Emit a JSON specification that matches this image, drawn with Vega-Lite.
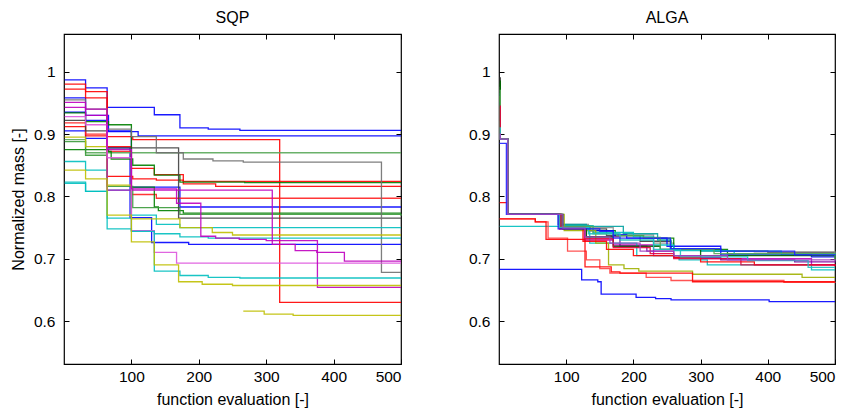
{
"$schema":"https://vega.github.io/schema/vega-lite/v6.json",
"padding":{"left":9,"top":8,"right":5,"bottom":5},
"background":"#ffffff",
"config":{
 "font":"Liberation Sans",
 "view":{"stroke":"#000","strokeWidth":1.2},
 "axis":{"domain":false,"grid":false,"tickSize":-5,"tickColor":"#000","tickWidth":1,"labelFont":"Liberation Sans","labelFontSize":15.5,"labelColor":"#000","titleFont":"Liberation Sans","titleFontSize":16,"titleFontWeight":"normal","titleColor":"#000","titlePadding":7},
 "axisX":{"labelPadding":10},
 "axisY":{"labelPadding":14},
 "title":{"font":"Liberation Sans","fontSize":16,"fontWeight":"normal","color":"#000","offset":8,"anchor":"middle"}
},
"bounds":"flush",
"spacing":98,
"data":{"values":[
{"p":"SQP","r":"s01","x":1,"y":0.987},{"p":"SQP","r":"s01","x":32,"y":0.974},{"p":"SQP","r":"s01","x":64,"y":0.943},{"p":"SQP","r":"s01","x":134,"y":0.931},{"p":"SQP","r":"s01","x":172,"y":0.910},{"p":"SQP","r":"s01","x":214,"y":0.908},{"p":"SQP","r":"s01","x":261,"y":0.906},{"p":"SQP","r":"s01","x":500,"y":0.906},
{"p":"SQP","r":"s02","x":1,"y":0.958},{"p":"SQP","r":"s02","x":32,"y":0.930},{"p":"SQP","r":"s02","x":66,"y":0.904},{"p":"SQP","r":"s02","x":110,"y":0.897},{"p":"SQP","r":"s02","x":500,"y":0.897},
{"p":"SQP","r":"s03","x":1,"y":0.935},{"p":"SQP","r":"s03","x":32,"y":0.922},{"p":"SQP","r":"s03","x":64,"y":0.905},{"p":"SQP","r":"s03","x":100,"y":0.815},{"p":"SQP","r":"s03","x":172,"y":0.783},{"p":"SQP","r":"s03","x":500,"y":0.783},
{"p":"SQP","r":"s04","x":1,"y":0.905},{"p":"SQP","r":"s04","x":32,"y":0.893},{"p":"SQP","r":"s04","x":64,"y":0.878},{"p":"SQP","r":"s04","x":98,"y":0.766},{"p":"SQP","r":"s04","x":130,"y":0.726},{"p":"SQP","r":"s04","x":185,"y":0.723},{"p":"SQP","r":"s04","x":500,"y":0.723},
{"p":"SQP","r":"s05","x":1,"y":0.980},{"p":"SQP","r":"s05","x":32,"y":0.968},{"p":"SQP","r":"s05","x":64,"y":0.896},{"p":"SQP","r":"s05","x":102,"y":0.891},{"p":"SQP","r":"s05","x":320,"y":0.630},{"p":"SQP","r":"s05","x":500,"y":0.630},
{"p":"SQP","r":"s06","x":1,"y":0.972},{"p":"SQP","r":"s06","x":32,"y":0.958},{"p":"SQP","r":"s06","x":64,"y":0.832},{"p":"SQP","r":"s06","x":102,"y":0.828},{"p":"SQP","r":"s06","x":137,"y":0.826},{"p":"SQP","r":"s06","x":177,"y":0.824},{"p":"SQP","r":"s06","x":500,"y":0.824},
{"p":"SQP","r":"s07","x":1,"y":0.912},{"p":"SQP","r":"s07","x":32,"y":0.897},{"p":"SQP","r":"s07","x":64,"y":0.880},{"p":"SQP","r":"s07","x":100,"y":0.845},{"p":"SQP","r":"s07","x":134,"y":0.835},{"p":"SQP","r":"s07","x":177,"y":0.820},{"p":"SQP","r":"s07","x":225,"y":0.816},{"p":"SQP","r":"s07","x":500,"y":0.816},
{"p":"SQP","r":"s08","x":1,"y":0.918},{"p":"SQP","r":"s08","x":32,"y":0.900},{"p":"SQP","r":"s08","x":64,"y":0.872},{"p":"SQP","r":"s08","x":100,"y":0.803},{"p":"SQP","r":"s08","x":137,"y":0.797},{"p":"SQP","r":"s08","x":500,"y":0.797},
{"p":"SQP","r":"s09","x":1,"y":0.891},{"p":"SQP","r":"s09","x":32,"y":0.870},{"p":"SQP","r":"s09","x":500,"y":0.870},
{"p":"SQP","r":"s10","x":1,"y":0.875},{"p":"SQP","r":"s10","x":66,"y":0.872},{"p":"SQP","r":"s10","x":70,"y":0.860},{"p":"SQP","r":"s10","x":102,"y":0.850},{"p":"SQP","r":"s10","x":134,"y":0.834},{"p":"SQP","r":"s10","x":172,"y":0.823},{"p":"SQP","r":"s10","x":268,"y":0.822},{"p":"SQP","r":"s10","x":500,"y":0.822},
{"p":"SQP","r":"s11","x":1,"y":0.934},{"p":"SQP","r":"s11","x":32,"y":0.920},{"p":"SQP","r":"s11","x":66,"y":0.915},{"p":"SQP","r":"s11","x":100,"y":0.815},{"p":"SQP","r":"s11","x":134,"y":0.783},{"p":"SQP","r":"s11","x":140,"y":0.777},{"p":"SQP","r":"s11","x":177,"y":0.773},{"p":"SQP","r":"s11","x":500,"y":0.773},
{"p":"SQP","r":"s12","x":1,"y":0.888},{"p":"SQP","r":"s12","x":32,"y":0.866},{"p":"SQP","r":"s12","x":64,"y":0.816},{"p":"SQP","r":"s12","x":102,"y":0.782},{"p":"SQP","r":"s12","x":172,"y":0.771},{"p":"SQP","r":"s12","x":500,"y":0.769},
{"p":"SQP","r":"s13","x":1,"y":0.922},{"p":"SQP","r":"s13","x":32,"y":0.905},{"p":"SQP","r":"s13","x":64,"y":0.878},{"p":"SQP","r":"s13","x":170,"y":0.765},{"p":"SQP","r":"s13","x":500,"y":0.765},
{"p":"SQP","r":"s14","x":1,"y":0.955},{"p":"SQP","r":"s14","x":32,"y":0.940},{"p":"SQP","r":"s14","x":64,"y":0.908},{"p":"SQP","r":"s14","x":100,"y":0.896},{"p":"SQP","r":"s14","x":137,"y":0.870},{"p":"SQP","r":"s14","x":177,"y":0.860},{"p":"SQP","r":"s14","x":221,"y":0.857},{"p":"SQP","r":"s14","x":266,"y":0.855},{"p":"SQP","r":"s14","x":471,"y":0.678},{"p":"SQP","r":"s14","x":500,"y":0.678},
{"p":"SQP","r":"s15","x":1,"y":0.856},{"p":"SQP","r":"s15","x":32,"y":0.842},{"p":"SQP","r":"s15","x":64,"y":0.810},{"p":"SQP","r":"s15","x":100,"y":0.770},{"p":"SQP","r":"s15","x":137,"y":0.755},{"p":"SQP","r":"s15","x":172,"y":0.750},{"p":"SQP","r":"s15","x":500,"y":0.750},
{"p":"SQP","r":"s16","x":1,"y":0.895},{"p":"SQP","r":"s16","x":32,"y":0.880},{"p":"SQP","r":"s16","x":64,"y":0.818},{"p":"SQP","r":"s16","x":100,"y":0.764},{"p":"SQP","r":"s16","x":172,"y":0.750},{"p":"SQP","r":"s16","x":220,"y":0.742},{"p":"SQP","r":"s16","x":250,"y":0.738},{"p":"SQP","r":"s16","x":500,"y":0.738},
{"p":"SQP","r":"s17","x":1,"y":0.821},{"p":"SQP","r":"s17","x":32,"y":0.808},{"p":"SQP","r":"s17","x":64,"y":0.748},{"p":"SQP","r":"s17","x":100,"y":0.745},{"p":"SQP","r":"s17","x":134,"y":0.740},{"p":"SQP","r":"s17","x":172,"y":0.735},{"p":"SQP","r":"s17","x":214,"y":0.733},{"p":"SQP","r":"s17","x":500,"y":0.733},
{"p":"SQP","r":"s18","x":1,"y":0.951},{"p":"SQP","r":"s18","x":32,"y":0.940},{"p":"SQP","r":"s18","x":64,"y":0.810},{"p":"SQP","r":"s18","x":309,"y":0.723},{"p":"SQP","r":"s18","x":343,"y":0.713},{"p":"SQP","r":"s18","x":375,"y":0.710},{"p":"SQP","r":"s18","x":416,"y":0.696},{"p":"SQP","r":"s18","x":500,"y":0.696},
{"p":"SQP","r":"s19","x":1,"y":0.928},{"p":"SQP","r":"s19","x":32,"y":0.915},{"p":"SQP","r":"s19","x":64,"y":0.862},{"p":"SQP","r":"s19","x":100,"y":0.745},{"p":"SQP","r":"s19","x":134,"y":0.710},{"p":"SQP","r":"s19","x":167,"y":0.693},{"p":"SQP","r":"s19","x":500,"y":0.693},
{"p":"SQP","r":"s20","x":1,"y":0.943},{"p":"SQP","r":"s20","x":32,"y":0.930},{"p":"SQP","r":"s20","x":64,"y":0.875},{"p":"SQP","r":"s20","x":100,"y":0.812},{"p":"SQP","r":"s20","x":167,"y":0.789},{"p":"SQP","r":"s20","x":203,"y":0.736},{"p":"SQP","r":"s20","x":225,"y":0.733},{"p":"SQP","r":"s20","x":260,"y":0.731},{"p":"SQP","r":"s20","x":300,"y":0.729},{"p":"SQP","r":"s20","x":376,"y":0.654},{"p":"SQP","r":"s20","x":500,"y":0.654},
{"p":"SQP","r":"s21","x":1,"y":0.823},{"p":"SQP","r":"s21","x":32,"y":0.808},{"p":"SQP","r":"s21","x":64,"y":0.765},{"p":"SQP","r":"s21","x":100,"y":0.744},{"p":"SQP","r":"s21","x":134,"y":0.680},{"p":"SQP","r":"s21","x":172,"y":0.673},{"p":"SQP","r":"s21","x":214,"y":0.670},{"p":"SQP","r":"s21","x":261,"y":0.669},{"p":"SQP","r":"s21","x":500,"y":0.669},
{"p":"SQP","r":"s22","x":1,"y":0.842},{"p":"SQP","r":"s22","x":32,"y":0.828},{"p":"SQP","r":"s22","x":64,"y":0.770},{"p":"SQP","r":"s22","x":100,"y":0.727},{"p":"SQP","r":"s22","x":134,"y":0.690},{"p":"SQP","r":"s22","x":170,"y":0.663},{"p":"SQP","r":"s22","x":205,"y":0.659},{"p":"SQP","r":"s22","x":250,"y":0.657},{"p":"SQP","r":"s22","x":500,"y":0.657},
{"p":"SQP","r":"s23","x":266,"y":0.616},{"p":"SQP","r":"s23","x":297,"y":0.611},{"p":"SQP","r":"s23","x":340,"y":0.609},{"p":"SQP","r":"s23","x":500,"y":0.609},

{"p":"ALGA","r":"a01","x":1,"y":0.99},{"p":"ALGA","r":"a01","x":2,"y":0.892},{"p":"ALGA","r":"a01","x":13,"y":0.771},{"p":"ALGA","r":"a01","x":90,"y":0.752},{"p":"ALGA","r":"a01","x":126,"y":0.748},{"p":"ALGA","r":"a01","x":160,"y":0.737},{"p":"ALGA","r":"a01","x":210,"y":0.728},{"p":"ALGA","r":"a01","x":256,"y":0.716},{"p":"ALGA","r":"a01","x":320,"y":0.712},{"p":"ALGA","r":"a01","x":400,"y":0.710},{"p":"ALGA","r":"a01","x":500,"y":0.708},
{"p":"ALGA","r":"a02","x":1,"y":0.975},{"p":"ALGA","r":"a02","x":2,"y":0.892},{"p":"ALGA","r":"a02","x":13,"y":0.771},{"p":"ALGA","r":"a02","x":93,"y":0.755},{"p":"ALGA","r":"a02","x":133,"y":0.750},{"p":"ALGA","r":"a02","x":170,"y":0.738},{"p":"ALGA","r":"a02","x":230,"y":0.725},{"p":"ALGA","r":"a02","x":260,"y":0.716},{"p":"ALGA","r":"a02","x":300,"y":0.713},{"p":"ALGA","r":"a02","x":380,"y":0.711},{"p":"ALGA","r":"a02","x":500,"y":0.709},
{"p":"ALGA","r":"a03","x":1,"y":0.98},{"p":"ALGA","r":"a03","x":2,"y":0.892},{"p":"ALGA","r":"a03","x":13,"y":0.771},{"p":"ALGA","r":"a03","x":92,"y":0.753},{"p":"ALGA","r":"a03","x":135,"y":0.745},{"p":"ALGA","r":"a03","x":173,"y":0.737},{"p":"ALGA","r":"a03","x":215,"y":0.733},{"p":"ALGA","r":"a03","x":260,"y":0.715},{"p":"ALGA","r":"a03","x":340,"y":0.708},{"p":"ALGA","r":"a03","x":500,"y":0.703},
{"p":"ALGA","r":"a04","x":1,"y":0.965},{"p":"ALGA","r":"a04","x":2,"y":0.892},{"p":"ALGA","r":"a04","x":13,"y":0.771},{"p":"ALGA","r":"a04","x":88,"y":0.755},{"p":"ALGA","r":"a04","x":130,"y":0.752},{"p":"ALGA","r":"a04","x":185,"y":0.740},{"p":"ALGA","r":"a04","x":236,"y":0.730},{"p":"ALGA","r":"a04","x":256,"y":0.716},{"p":"ALGA","r":"a04","x":300,"y":0.712},{"p":"ALGA","r":"a04","x":420,"y":0.706},{"p":"ALGA","r":"a04","x":500,"y":0.704},
{"p":"ALGA","r":"a05","x":1,"y":0.95},{"p":"ALGA","r":"a05","x":2,"y":0.892},{"p":"ALGA","r":"a05","x":13,"y":0.771},{"p":"ALGA","r":"a05","x":90,"y":0.750},{"p":"ALGA","r":"a05","x":133,"y":0.745},{"p":"ALGA","r":"a05","x":170,"y":0.738},{"p":"ALGA","r":"a05","x":190,"y":0.733},{"p":"ALGA","r":"a05","x":250,"y":0.720},{"p":"ALGA","r":"a05","x":330,"y":0.706},{"p":"ALGA","r":"a05","x":465,"y":0.703},{"p":"ALGA","r":"a05","x":500,"y":0.702},
{"p":"ALGA","r":"a06","x":1,"y":0.94},{"p":"ALGA","r":"a06","x":2,"y":0.892},{"p":"ALGA","r":"a06","x":13,"y":0.771},{"p":"ALGA","r":"a06","x":90,"y":0.748},{"p":"ALGA","r":"a06","x":127,"y":0.730},{"p":"ALGA","r":"a06","x":170,"y":0.722},{"p":"ALGA","r":"a06","x":230,"y":0.705},{"p":"ALGA","r":"a06","x":300,"y":0.700},{"p":"ALGA","r":"a06","x":465,"y":0.690},{"p":"ALGA","r":"a06","x":500,"y":0.690},
{"p":"ALGA","r":"a07","x":1,"y":0.93},{"p":"ALGA","r":"a07","x":2,"y":0.892},{"p":"ALGA","r":"a07","x":13,"y":0.771},{"p":"ALGA","r":"a07","x":92,"y":0.752},{"p":"ALGA","r":"a07","x":130,"y":0.735},{"p":"ALGA","r":"a07","x":180,"y":0.720},{"p":"ALGA","r":"a07","x":220,"y":0.712},{"p":"ALGA","r":"a07","x":260,"y":0.702},{"p":"ALGA","r":"a07","x":330,"y":0.698},{"p":"ALGA","r":"a07","x":440,"y":0.695},{"p":"ALGA","r":"a07","x":500,"y":0.694},
{"p":"ALGA","r":"a08","x":1,"y":0.752},{"p":"ALGA","r":"a08","x":90,"y":0.750},{"p":"ALGA","r":"a08","x":135,"y":0.725},{"p":"ALGA","r":"a08","x":205,"y":0.705},{"p":"ALGA","r":"a08","x":268,"y":0.698},{"p":"ALGA","r":"a08","x":310,"y":0.690},{"p":"ALGA","r":"a08","x":465,"y":0.682},{"p":"ALGA","r":"a08","x":500,"y":0.682},
{"p":"ALGA","r":"a09","x":1,"y":0.92},{"p":"ALGA","r":"a09","x":2,"y":0.892},{"p":"ALGA","r":"a09","x":13,"y":0.771},{"p":"ALGA","r":"a09","x":95,"y":0.753},{"p":"ALGA","r":"a09","x":140,"y":0.742},{"p":"ALGA","r":"a09","x":200,"y":0.735},{"p":"ALGA","r":"a09","x":230,"y":0.722},{"p":"ALGA","r":"a09","x":260,"y":0.713},{"p":"ALGA","r":"a09","x":350,"y":0.708},{"p":"ALGA","r":"a09","x":500,"y":0.706},
{"p":"ALGA","r":"a10","x":1,"y":0.96},{"p":"ALGA","r":"a10","x":2,"y":0.892},{"p":"ALGA","r":"a10","x":13,"y":0.771},{"p":"ALGA","r":"a10","x":97,"y":0.745},{"p":"ALGA","r":"a10","x":144,"y":0.725},{"p":"ALGA","r":"a10","x":163,"y":0.690},{"p":"ALGA","r":"a10","x":186,"y":0.684},{"p":"ALGA","r":"a10","x":208,"y":0.680},{"p":"ALGA","r":"a10","x":288,"y":0.675},{"p":"ALGA","r":"a10","x":451,"y":0.670},{"p":"ALGA","r":"a10","x":500,"y":0.670},
{"p":"ALGA","r":"a11","x":1,"y":0.790},{"p":"ALGA","r":"a11","x":13,"y":0.771},{"p":"ALGA","r":"a11","x":90,"y":0.748},{"p":"ALGA","r":"a11","x":125,"y":0.728},{"p":"ALGA","r":"a11","x":160,"y":0.715},{"p":"ALGA","r":"a11","x":200,"y":0.705},{"p":"ALGA","r":"a11","x":260,"y":0.702},{"p":"ALGA","r":"a11","x":300,"y":0.695},{"p":"ALGA","r":"a11","x":380,"y":0.690},{"p":"ALGA","r":"a11","x":500,"y":0.688},
{"p":"ALGA","r":"a12","x":1,"y":0.764},{"p":"ALGA","r":"a12","x":54,"y":0.759},{"p":"ALGA","r":"a12","x":73,"y":0.733},{"p":"ALGA","r":"a12","x":102,"y":0.712},{"p":"ALGA","r":"a12","x":130,"y":0.698},{"p":"ALGA","r":"a12","x":150,"y":0.684},{"p":"ALGA","r":"a12","x":165,"y":0.677},{"p":"ALGA","r":"a12","x":219,"y":0.670},{"p":"ALGA","r":"a12","x":256,"y":0.665},{"p":"ALGA","r":"a12","x":424,"y":0.662},{"p":"ALGA","r":"a12","x":500,"y":0.661},
{"p":"ALGA","r":"a13","x":1,"y":0.764},{"p":"ALGA","r":"a13","x":54,"y":0.759},{"p":"ALGA","r":"a13","x":70,"y":0.731},{"p":"ALGA","r":"a13","x":128,"y":0.687},{"p":"ALGA","r":"a13","x":167,"y":0.679},{"p":"ALGA","r":"a13","x":180,"y":0.677},{"p":"ALGA","r":"a13","x":288,"y":0.663},{"p":"ALGA","r":"a13","x":500,"y":0.663},
{"p":"ALGA","r":"a14","x":1,"y":0.683},{"p":"ALGA","r":"a14","x":123,"y":0.666},{"p":"ALGA","r":"a14","x":147,"y":0.663},{"p":"ALGA","r":"a14","x":152,"y":0.643},{"p":"ALGA","r":"a14","x":204,"y":0.638},{"p":"ALGA","r":"a14","x":233,"y":0.636},{"p":"ALGA","r":"a14","x":256,"y":0.634},{"p":"ALGA","r":"a14","x":402,"y":0.631},{"p":"ALGA","r":"a14","x":500,"y":0.631},
{"p":"ALGA","r":"a15","x":1,"y":0.985},{"p":"ALGA","r":"a15","x":2,"y":0.892},{"p":"ALGA","r":"a15","x":13,"y":0.771},{"p":"ALGA","r":"a15","x":95,"y":0.748},{"p":"ALGA","r":"a15","x":130,"y":0.735},{"p":"ALGA","r":"a15","x":170,"y":0.720},{"p":"ALGA","r":"a15","x":240,"y":0.715},{"p":"ALGA","r":"a15","x":300,"y":0.705},{"p":"ALGA","r":"a15","x":500,"y":0.700},
{"p":"ALGA","r":"a16","x":1,"y":0.97},{"p":"ALGA","r":"a16","x":2,"y":0.892},{"p":"ALGA","r":"a16","x":13,"y":0.771},{"p":"ALGA","r":"a16","x":92,"y":0.752},{"p":"ALGA","r":"a16","x":140,"y":0.740},{"p":"ALGA","r":"a16","x":175,"y":0.737},{"p":"ALGA","r":"a16","x":215,"y":0.734},{"p":"ALGA","r":"a16","x":240,"y":0.715},{"p":"ALGA","r":"a16","x":320,"y":0.708},{"p":"ALGA","r":"a16","x":500,"y":0.698},
{"p":"ALGA","r":"a17","x":1,"y":0.945},{"p":"ALGA","r":"a17","x":2,"y":0.892},{"p":"ALGA","r":"a17","x":13,"y":0.771},{"p":"ALGA","r":"a17","x":92,"y":0.750},{"p":"ALGA","r":"a17","x":128,"y":0.732},{"p":"ALGA","r":"a17","x":170,"y":0.718},{"p":"ALGA","r":"a17","x":225,"y":0.708},{"p":"ALGA","r":"a17","x":260,"y":0.700},{"p":"ALGA","r":"a17","x":360,"y":0.690},{"p":"ALGA","r":"a17","x":500,"y":0.689},
{"p":"ALGA","r":"a18","x":1,"y":0.91},{"p":"ALGA","r":"a18","x":2,"y":0.892},{"p":"ALGA","r":"a18","x":13,"y":0.771},{"p":"ALGA","r":"a18","x":90,"y":0.750},{"p":"ALGA","r":"a18","x":133,"y":0.740},{"p":"ALGA","r":"a18","x":180,"y":0.730},{"p":"ALGA","r":"a18","x":230,"y":0.715},{"p":"ALGA","r":"a18","x":270,"y":0.703},{"p":"ALGA","r":"a18","x":370,"y":0.697},{"p":"ALGA","r":"a18","x":460,"y":0.686},{"p":"ALGA","r":"a18","x":500,"y":0.686},
{"p":"ALGA","r":"a19","x":1,"y":0.885},{"p":"ALGA","r":"a19","x":11,"y":0.771},{"p":"ALGA","r":"a19","x":88,"y":0.748},{"p":"ALGA","r":"a19","x":150,"y":0.744},{"p":"ALGA","r":"a19","x":170,"y":0.733},{"p":"ALGA","r":"a19","x":255,"y":0.716},{"p":"ALGA","r":"a19","x":330,"y":0.712},{"p":"ALGA","r":"a19","x":440,"y":0.706},{"p":"ALGA","r":"a19","x":500,"y":0.705},
{"p":"ALGA","r":"a20","x":1,"y":0.90},{"p":"ALGA","r":"a20","x":2,"y":0.892},{"p":"ALGA","r":"a20","x":13,"y":0.771},{"p":"ALGA","r":"a20","x":95,"y":0.749},{"p":"ALGA","r":"a20","x":128,"y":0.735},{"p":"ALGA","r":"a20","x":165,"y":0.725},{"p":"ALGA","r":"a20","x":210,"y":0.712},{"p":"ALGA","r":"a20","x":260,"y":0.705},{"p":"ALGA","r":"a20","x":340,"y":0.698},{"p":"ALGA","r":"a20","x":500,"y":0.696}
]},
"hconcat":[
{
 "title":{"text":"SQP"},
 "width":337,"height":330,
 "transform":[{"filter":"datum.p === 'SQP'"}],
 "layer":[
  {"mark":{"type":"line","interpolate":"step-after","strokeWidth":1.3,"opacity":0.9},
   "encoding":{
    "x":{"field":"x","type":"quantitative","scale":{"domain":[0,500],"nice":false,"zero":false},"axis":{"values":[100,200,300,400,500],"title":"function evaluation [-]"}},
    "y":{"field":"y","type":"quantitative","scale":{"domain":[0.531,1.0606],"nice":false,"zero":false},"axis":{"values":[0.6,0.7,0.8,0.9,1],"format":".1~f","title":"Normalized mass [-]"}},
    "color":{"field":"r","type":"nominal","legend":null,"scale":{
      "domain":["s01","s02","s03","s04","s05","s06","s07","s08","s09","s10","s11","s12","s13","s14","s15","s16","s17","s18","s19","s20","s21","s22","s23","a01","a02","a03","a04","a05","a06","a07","a08","a09","a10","a11","a12","a13","a14","a15","a16","a17","a18","a19","a20"],
      "range":["#0000FF","#0000FF","#0000FF","#0000FF","#FF0000","#FF0000","#FF0000","#FF2020","#5aa85a","#008000","#008000","#3a9a3a","#404040","#707070","#00BFBF","#BFBF00","#00BFBF","#BF00BF","#DD55DD","#BF00BF","#00BFBF","#BFBF00","#BFBF00","#404040","#909090","#008000","#00A0A0","#0000FF","#BF00BF","#8000A0","#00BFBF","#00BFBF","#A0B000","#FF0000","#FF4040","#FF0000","#0000FF","#006400","#5aa85a","#E0003C","#20C0C0","#2020FF","#A040C0"]}}
   }},
  {"mark":{"type":"point","opacity":0},
   "encoding":{
    "x":{"field":"x","type":"quantitative","scale":{"domain":[0,500],"nice":false,"zero":false},"axis":{"orient":"top","values":[100,200,300,400,500],"labels":false,"title":null}},
    "y":{"field":"y","type":"quantitative","scale":{"domain":[0.531,1.0606],"nice":false,"zero":false},"axis":{"orient":"right","values":[0.6,0.7,0.8,0.9,1],"labels":false,"title":null}}
   }}
 ],
 "resolve":{"axis":{"x":"independent","y":"independent"}}
},
{
 "title":{"text":"ALGA"},
 "width":336,"height":330,
 "transform":[{"filter":"datum.p === 'ALGA'"}],
 "layer":[
  {"mark":{"type":"line","interpolate":"step-after","strokeWidth":1.3,"opacity":0.9},
   "encoding":{
    "x":{"field":"x","type":"quantitative","scale":{"domain":[0,500],"nice":false,"zero":false},"axis":{"values":[100,200,300,400,500],"title":"function evaluation [-]"}},
    "y":{"field":"y","type":"quantitative","scale":{"domain":[0.531,1.0606],"nice":false,"zero":false},"axis":{"values":[0.6,0.7,0.8,0.9,1],"format":".1~f","title":null}},
    "color":{"field":"r","type":"nominal","legend":null}
   }},
  {"mark":{"type":"point","opacity":0},
   "encoding":{
    "x":{"field":"x","type":"quantitative","scale":{"domain":[0,500],"nice":false,"zero":false},"axis":{"orient":"top","values":[100,200,300,400,500],"labels":false,"title":null}},
    "y":{"field":"y","type":"quantitative","scale":{"domain":[0.531,1.0606],"nice":false,"zero":false},"axis":{"orient":"right","values":[0.6,0.7,0.8,0.9,1],"labels":false,"title":null}}
   }}
 ],
 "resolve":{"axis":{"x":"independent","y":"independent"}}
}
]
}
